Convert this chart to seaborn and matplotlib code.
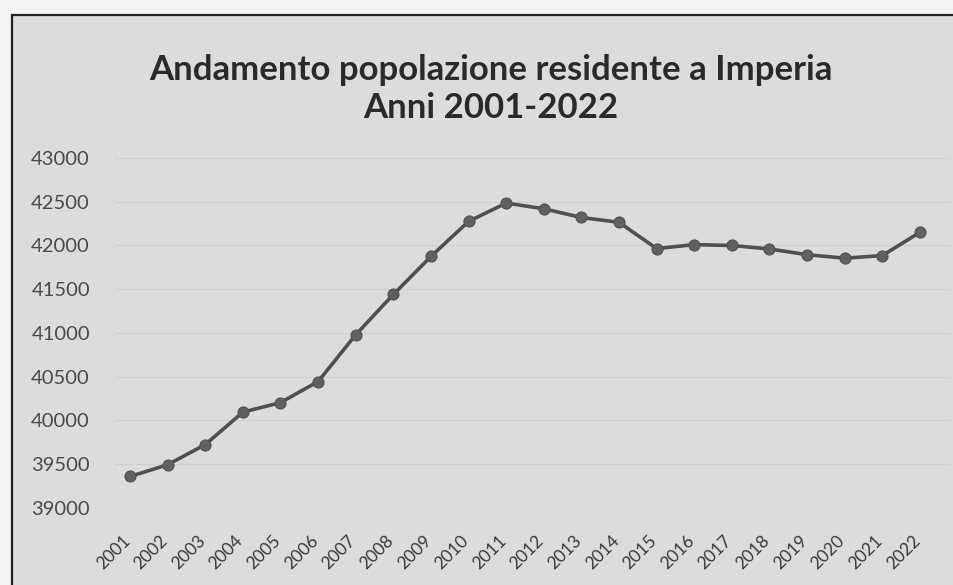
import numpy as np
import pandas as pd
import matplotlib
matplotlib.use("Agg")
import matplotlib.pyplot as plt
import matplotlib.transforms as mtransforms
import seaborn as sns
from matplotlib.patches import Rectangle

# data
years = [str(y) for y in range(2001, 2023)]
population = [39360, 39495, 39725, 40095, 40205, 40445, 40980, 41440, 41875, 42275,
              42485, 42420, 42320, 42265, 41965, 42010, 42000, 41960, 41895, 41855,
              41885, 42150]
y_ticks = [39000, 39500, 40000, 40500, 41000, 41500, 42000, 42500, 43000]

df = pd.DataFrame({"anno": years, "popolazione": population})

sns.set_theme(style="white")
plt.rcParams["font.family"] = ["Lato", "DejaVu Sans"]

W, H = 954, 585
fig = plt.figure(figsize=(W / 100, H / 100), dpi=100)
fig.patch.set_facecolor("#f4f4f4")

# scanned frame
fig.patches.append(Rectangle((12 / W, -0.05), 1.1, (H - 15) / H + 0.05,
                             transform=fig.transFigure, facecolor="#dcdcdc",
                             edgecolor="#222222", linewidth=1.6, zorder=-1))

ax = fig.add_axes([115 / W, (H - 508) / H, 835 / W, 350 / H])
ax.set_facecolor("none")
ax.set_zorder(1)

sns.lineplot(data=df, x="anno", y="popolazione", ax=ax, sort=False,
             color="#505050", linewidth=2.6, marker="o", markersize=8,
             markeredgecolor="#505050", markerfacecolor="#606060")

ax.set_ylim(39000, 43000)
ax.set_xlim(-0.4, 21.8)
ax.set_yticks(y_ticks)
ax.set_yticklabels([str(v) for v in y_ticks], fontsize=14.5, color="#4a4a4a")
ax.tick_params(axis="y", length=0, pad=18)
ax.tick_params(axis="x", length=0, pad=8)
shift = mtransforms.ScaledTranslation(-8 / 100, -13 / 100, fig.dpi_scale_trans)
for lab in ax.get_xticklabels():
    lab.set_rotation(45)
    lab.set_ha("right")
    lab.set_rotation_mode("anchor")
    lab.set_fontsize(12.5)
    lab.set_color("#3a3a3a")
    lab.set_transform(lab.get_transform() + shift)
ax.set_xlabel("")
ax.set_ylabel("")
ax.grid(axis="y", color="#d0d0d0", linewidth=0.8)
sns.despine(ax=ax, left=True, bottom=True)

fig.text(491 / W, 1 - 70 / H, "Andamento popolazione residente a Imperia",
         ha="center", va="center", fontsize=25, fontweight="bold", color="#2a2a2a")
fig.text(491 / W, 1 - 108 / H, "Anni 2001-2022",
         ha="center", va="center", fontsize=25, fontweight="bold", color="#2a2a2a")

fig.savefig("out.png", dpi=100, facecolor=fig.get_facecolor())
